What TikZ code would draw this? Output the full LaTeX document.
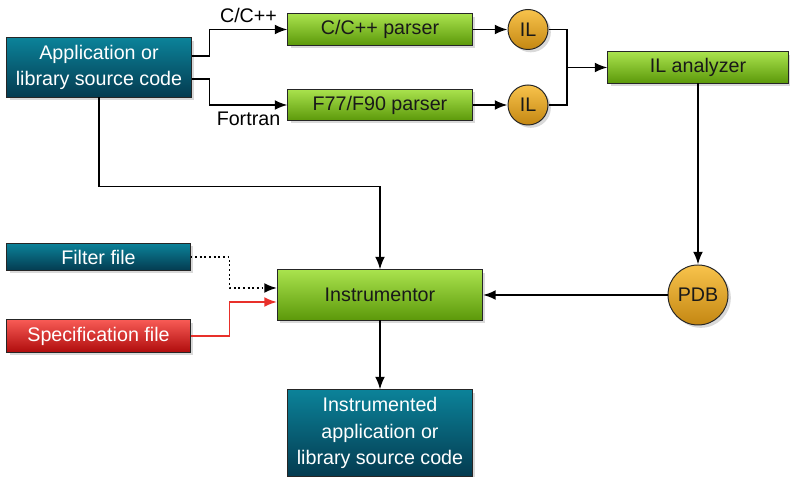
\documentclass[tikz,border=0pt]{standalone}
\usepackage{fontspec}
\setmainfont{Liberation Sans}
\usepackage{tikz}
\usetikzlibrary{positioning}
\usetikzlibrary{calc}
\usetikzlibrary{shadows}
\usetikzlibrary{arrows.meta}

\definecolor{tealtop}{HTML}{0B8299}
\definecolor{tealbot}{HTML}{043B50}
\definecolor{greentop}{HTML}{A9E24D}
\definecolor{greenbot}{HTML}{5C990A}
\definecolor{ortop}{HTML}{F8C34C}
\definecolor{orbot}{HTML}{C48712}
\definecolor{redtop}{HTML}{F75A55}
\definecolor{redbot}{HTML}{B00D0D}
\definecolor{redline}{HTML}{E8302A}

\begin{document}
\begin{tikzpicture}[x=0.025cm,y=-0.025cm,
  font=\fontsize{14}{19}\selectfont,
  box/.style={draw=black!85,line width=0.7pt,inner sep=0pt,align=center,
    drop shadow={shadow xshift=2pt,shadow yshift=-2pt,opacity=0.3}},
  srcbox/.style={box,top color=tealtop,bottom color=tealbot,text=white},
  toolbox/.style={box,top color=greentop,bottom color=greenbot,text=black!90},
  specbox/.style={box,top color=redtop,bottom color=redbot,text=white},
  ball/.style={circle,draw=black!85,line width=0.7pt,inner sep=0pt,
    top color=ortop,bottom color=orbot,text=black!90,
    drop shadow={shadow xshift=2pt,shadow yshift=-2pt,opacity=0.3}},
  flow/.style={line width=1.3pt,-{Latex[length=9pt,width=7pt]}},
  wire/.style={line width=1.3pt}]
\useasboundingbox (0,0) rectangle (790,477);

\node[srcbox,minimum width=4.6cm,minimum height=1.475cm] (app) at (99,67.5) {Application or\\library source code};
\node[toolbox,minimum width=4.6cm,minimum height=0.775cm] (cpar) at (380,29.5) {C/C++ parser};
\node[toolbox,minimum width=4.6cm,minimum height=0.775cm] (fpar) at (380,105) {F77/F90 parser};
\node[ball,minimum size=1cm] (il1) at (528,29.5) {IL};
\node[ball,minimum size=1cm] (il2) at (528,105) {IL};
\node[toolbox,minimum width=4.5cm,minimum height=0.775cm] (ila) at (698,67.5) {IL analyzer};
\node[ball,minimum size=1.5cm] (pdb) at (698,295) {PDB};
\node[toolbox,minimum width=5.125cm,minimum height=1.25cm] (instr) at (380,295) {Instrumentor};
\node[srcbox,minimum width=4.575cm,minimum height=0.675cm] (filt) at (98.5,257) {Filter file};
\node[specbox,minimum width=4.575cm,minimum height=0.8cm] (spec) at (98.5,336) {Specification file};
\node[srcbox,minimum width=4.6cm,minimum height=2.15cm] (out) at (380,433) {Instrumented\\application or\\library source code};
\coordinate (merge) at (567,67.5);

% front ends
\draw[flow] ($(app.east)+(0,-11.5)$) -- ++(18,0) |- node[pos=0.75,above=1pt]{C/C++} (cpar.west);
\draw[flow] ($(app.east)+(0,11.5)$) -- ++(18,0) |- node[pos=0.75,below=1pt]{Fortran} (fpar.west);
\draw[flow] (cpar) -- (il1);
\draw[flow] (fpar) -- (il2);
\draw[wire] (il1.east) -| (merge);
\draw[wire] (il2.east) -| (merge);
\draw[flow] (merge) -- (ila.west);

% instrumentation
\draw[flow] (ila) -- (pdb);
\draw[flow] (pdb) -- (instr);
\draw[flow] (app.south) -- ++(0,89) -| (instr.north);
\draw[flow,dotted] (filt.east) -- ++(39,0) |- ($(instr.west)+(0,-7)$);
\draw[flow,redline] (spec.east) -- ++(39,0) |- ($(instr.west)+(0,7)$);
\draw[flow] (instr) -- (out);
\end{tikzpicture}
\end{document}
